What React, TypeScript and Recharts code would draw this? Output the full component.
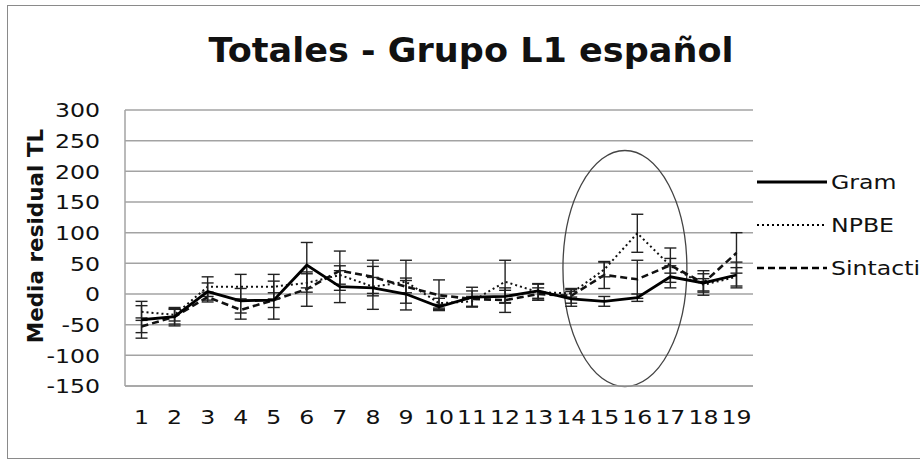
import React from 'react';
import { LineChart, Line, XAxis, YAxis, CartesianGrid, ErrorBar, Legend, ReferenceArea } from 'recharts';

const categories = [1, 2, 3, 4, 5, 6, 7, 8, 9, 10, 11, 12, 13, 14, 15, 16, 17, 18, 19];
const gram = [-42, -37, 4, -11, -10, 47, 12, 10, 0, -21, -5, -4, 5, -8, -12, -6, 28, 18, 31];
const gramErr = [30, 15, 14, 20, 31, 37, 26, 35, 26, 4, 16, 10, 12, 12, 8, 6, 18, 20, 21];
const npbe = [-29, -34, 12, 12, 12, 18, 31, 12, 20, -15, -12, 20, 3, 1, 40, 99, 46, 15, 28];
const npbeErr = [10, 10, 16, 20, 20, 15, 15, 15, 35, 8, 8, 35, 13, 6, 12, 31, 12, 10, 15];
const sintact = [-53, -37, -5, -26, -10, 8, 38, 28, 12, -2, -8, -10, 0, -3, 31, 24, 47, 18, 67];
const sintactErr = [10, 12, 8, 15, 12, 28, 32, 27, 10, 25, 13, 20, 10, 12, 22, 31, 28, 15, 33];
const yTicks = [-150, -100, -50, 0, 50, 100, 150, 200, 250, 300];

// highlighted region (ellipse around 15-16)
const ellipseX = [13.75, 17.5];
const ellipseY = [-151, 234];

const data = categories.map((c, i) => ({
  x: c,
  gram: gram[i],
  gramErr: gramErr[i],
  npbe: npbe[i],
  npbeErr: npbeErr[i],
  sintact: sintact[i],
  sintactErr: sintactErr[i],
}));

const font = 'DejaVu Sans, Verdana, sans-serif';
const stretch = 1.18; // the original text is a little wider than DejaVu

const EllipseShape = (p: any) => {
  const x = Math.min(p.x, p.x + p.width);
  const y = Math.min(p.y, p.y + p.height);
  const w = Math.abs(p.width);
  const h = Math.abs(p.height);
  return <ellipse cx={x + w / 2} cy={y + h / 2} rx={w / 2} ry={h / 2} fill="none" stroke="#444" strokeWidth={1.3} />;
};

const XTick = (p: any) => (
  <g transform={`translate(${p.x},${p.y}) scale(${stretch},1)`}>
    <text textAnchor="middle" dy="0.8em" fill="#111" fontSize={20} fontFamily={font}>
      {p.payload.value}
    </text>
  </g>
);

const YTick = (p: any) => (
  <g transform={`translate(${p.x},${p.y}) scale(${stretch},1)`}>
    <text textAnchor="end" dy="0.36em" fill="#111" fontSize={20} fontFamily={font}>
      {p.payload.value}
    </text>
  </g>
);

const LegendContent = (props: any) => {
  const order = ['gram', 'npbe', 'sintact'];
  const items = [...(props.payload || [])].sort(
    (a: any, b: any) => order.indexOf(a.dataKey) - order.indexOf(b.dataKey)
  );
  return (
    <div>
      {items.map((it: any) => (
        <div key={it.dataKey} style={{ display: 'flex', alignItems: 'center', height: 43 }}>
          <svg width={70} height={6} style={{ marginRight: 4, flex: 'none' }}>
            <line
              x1={0}
              y1={3}
              x2={70}
              y2={3}
              stroke="#000"
              strokeWidth={it.payload?.strokeWidth || 2}
              strokeDasharray={it.payload?.strokeDasharray}
            />
          </svg>
          <span
            style={{
              fontFamily: font,
              fontSize: 20,
              color: '#111',
              whiteSpace: 'nowrap',
              display: 'inline-block',
              transform: `scaleX(${stretch})`,
              transformOrigin: 'left center',
            }}
          >
            {it.value}
          </span>
        </div>
      ))}
    </div>
  );
};

export default function App() {
  return (
    <div style={{ position: 'absolute', left: 0, top: 0, width: 920, height: 461, overflow: 'hidden', background: '#fff' }}>
      <div
        style={{
          position: 'absolute',
          left: 7,
          top: 5,
          width: 940,
          height: 452,
          border: '1px solid #8a8a8a',
        }}
      />
      <div style={{ position: 'absolute', left: 0, top: 0 }}>
        <LineChart width={920} height={461} data={data} margin={{ top: 110, right: 167, bottom: 35, left: 0 }}>
          <CartesianGrid vertical={false} stroke="#a3a3a3" strokeWidth={1.5} />
          <XAxis
            dataKey="x"
            type="number"
            domain={[0.5, 19.5]}
            ticks={categories}
            interval={0}
            height={40}
            tickLine={false}
            tickMargin={16}
            axisLine={{ stroke: '#a3a3a3', strokeWidth: 1.5 }}
            tick={XTick}
          />
          <YAxis
            type="number"
            domain={[-150, 300]}
            ticks={yTicks}
            interval={0}
            width={125}
            tickLine={false}
            tickMargin={19}
            axisLine={{ stroke: '#a3a3a3', strokeWidth: 1.5 }}
            tick={YTick}
          />
          <ReferenceArea
            x1={ellipseX[0]}
            x2={ellipseX[1]}
            y1={ellipseY[0]}
            y2={ellipseY[1]}
            ifOverflow="visible"
            shape={EllipseShape}
          />
          <Line
            name="Sintactico"
            dataKey="sintact"
            stroke="#111"
            strokeWidth={2.6}
            strokeDasharray="7 4"
            dot={false}
            isAnimationActive={false}
          >
            <ErrorBar dataKey="sintactErr" width={6} stroke="#222" strokeWidth={1.4} direction="y" />
          </Line>
          <Line
            name="NPBE"
            dataKey="npbe"
            stroke="#111"
            strokeWidth={2}
            strokeDasharray="2 3"
            dot={false}
            isAnimationActive={false}
          >
            <ErrorBar dataKey="npbeErr" width={6} stroke="#222" strokeWidth={1.4} direction="y" />
          </Line>
          <Line name="Gram" dataKey="gram" stroke="#000" strokeWidth={2.8} dot={false} isAnimationActive={false}>
            <ErrorBar dataKey="gramErr" width={6} stroke="#222" strokeWidth={1.4} direction="y" />
          </Line>
          <Legend
            layout="horizontal"
            align="center"
            verticalAlign="middle"
            content={LegendContent}
            wrapperStyle={{ position: 'absolute', left: 757, top: 160, width: 200, height: 130 }}
          />
        </LineChart>
      </div>
      <svg width={920} height={461} style={{ position: 'absolute', left: 0, top: 0, pointerEvents: 'none' }}>
        <text
          x={471}
          y={62}
          textAnchor="middle"
          fontFamily={font}
          fontWeight="bold"
          fontSize={33}
          fill="#111"
          textLength={525}
          lengthAdjust="spacingAndGlyphs"
        >
          Totales - Grupo L1 español
        </text>
        <text
          transform="translate(43,236) rotate(-90)"
          textAnchor="middle"
          fontFamily={font}
          fontWeight="bold"
          fontSize={21.5}
          fill="#111"
        >
          Media residual TL
        </text>
      </svg>
    </div>
  );
}
